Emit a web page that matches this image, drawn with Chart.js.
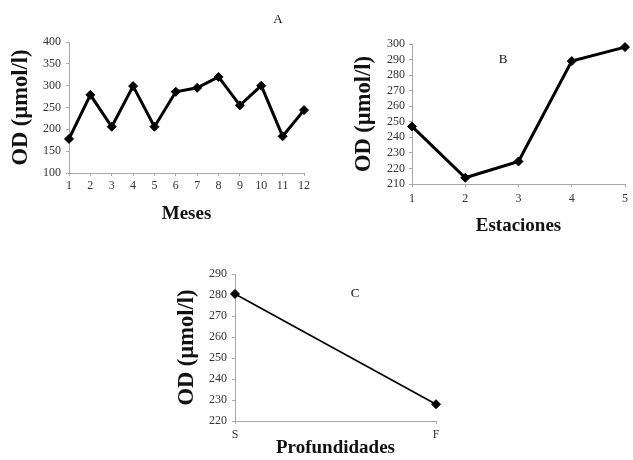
<!DOCTYPE html>
<html>
<head>
<meta charset="utf-8">
<title>OD (µmol/l)</title>
<script src="https://cdn.jsdelivr.net/npm/chart.js@4.4.1/dist/chart.umd.min.js"></script>
<style>
  html, body { margin: 0; padding: 0; background: #fff; }
  body { width: 633px; height: 460px; position: relative; overflow: hidden; }
  canvas { position: absolute; }
</style>
</head>
<body>
<canvas id="chartA" width="320" height="230" style="left:0;top:0"></canvas>
<canvas id="chartB" width="313" height="240" style="left:320px;top:0"></canvas>
<canvas id="chartC" width="300" height="230" style="left:160px;top:230px"></canvas>
<script>
// Dissolved oxygen (OD, µmol/l) by month, by station and by depth
const mesesLabels = ['1', '2', '3', '4', '5', '6', '7', '8', '9', '10', '11', '12'];
const mesesOD = [178, 279, 206, 299, 206, 286, 295, 320, 255, 300, 184, 244];

const estacionesLabels = ['1', '2', '3', '4', '5'];
const estacionesOD = [247, 214, 224.5, 289, 298];

const profundidadesLabels = ['S', 'F'];
const profundidadesOD = [280.5, 228];

const yTitle = 'OD (µmol/l)';
const SERIF = '"Liberation Serif", "Times New Roman", serif';
const AXIS_GREY = '#a8a8a8';
const TICK_COLOR = '#333';

// Panel letter drawn inside each canvas
const panelLetter = {
  id: 'panelLetter',
  afterDraw(chart, args, opts) {
    const ctx = chart.ctx;
    ctx.save();
    ctx.font = '13px ' + SERIF;
    ctx.fillStyle = '#111';
    ctx.textAlign = 'center';
    ctx.textBaseline = 'middle';
    ctx.fillText(opts.text, opts.x, opts.y);
    ctx.restore();
  }
};

function makeChart(id, g) {
  const canvas = document.getElementById(id);
  return new Chart(canvas, {
    type: 'line',
    data: {
      labels: g.labels,
      datasets: [{
        data: g.values,
        borderColor: '#000',
        backgroundColor: '#000',
        borderWidth: g.lineWidth,
        pointStyle: 'rectRot',
        pointRadius: 4.5,
        pointBorderWidth: 1,
        pointBackgroundColor: '#000',
        pointBorderColor: '#000',
        tension: 0,
        clip: false
      }]
    },
    options: {
      responsive: false,
      animation: false,
      events: [],
      layout: {
        autoPadding: false,
        padding: { left: 0, top: g.top, right: canvas.width - g.right, bottom: 0 }
      },
      plugins: {
        legend: { display: false },
        tooltip: { enabled: false },
        panelLetter: g.letter
      },
      scales: {
        x: {
          type: 'category',
          offset: false,
          grid: { drawOnChartArea: false, drawTicks: true, tickLength: 3, color: AXIS_GREY },
          border: { display: true, color: AXIS_GREY, width: 1 },
          ticks: {
            color: TICK_COLOR, padding: g.xTickPad, maxRotation: 0, autoSkip: false,
            font: { family: SERIF, size: 12 }
          },
          title: {
            display: true, text: g.xTitle, color: '#111',
            font: { family: SERIF, size: 19, weight: 'bold', lineHeight: 1 },
            padding: { top: 0, bottom: g.xTitlePad }
          },
          afterFit(scale) { scale.height = canvas.height - g.bottom; }
        },
        y: {
          min: g.min, max: g.max,
          grid: { drawOnChartArea: false, drawTicks: true, tickLength: 3, color: AXIS_GREY },
          border: { display: true, color: AXIS_GREY, width: 1 },
          ticks: {
            stepSize: g.step, color: TICK_COLOR, padding: g.yTickPad, autoSkip: false,
            font: { family: SERIF, size: 12 }
          },
          title: {
            display: true, text: yTitle, color: '#111',
            font: { family: SERIF, size: 22.5, weight: 'bold', lineHeight: 1 },
            padding: { top: g.yTitlePad, bottom: 0 }
          },
          afterFit(scale) { scale.width = g.left; }
        }
      }
    },
    plugins: [panelLetter]
  });
}

makeChart('chartA', {
  labels: mesesLabels, values: mesesOD, xTitle: 'Meses',
  min: 100, max: 400, step: 50, lineWidth: 3,
  left: 69, top: 42, right: 304, bottom: 173,
  xTickPad: 3, yTickPad: 5, yTitlePad: 9.5, xTitlePad: 6,
  letter: { text: 'A', x: 278, y: 20 }
});

makeChart('chartB', {
  labels: estacionesLabels, values: estacionesOD, xTitle: 'Estaciones',
  min: 210, max: 300, step: 10, lineWidth: 3,
  left: 92, top: 44, right: 310, bottom: 184,
  xTickPad: 5, yTickPad: 4, yTitlePad: 32.5, xTitlePad: 4,
  letter: { text: 'B', x: 183, y: 60 }
});

makeChart('chartC', {
  labels: profundidadesLabels, values: profundidadesOD, xTitle: 'Profundidades',
  min: 220, max: 290, step: 10, lineWidth: 1.6,
  left: 75, top: 44, right: 276, bottom: 191,
  xTickPad: 4, yTickPad: 5, yTitlePad: 16, xTitlePad: 2,
  letter: { text: 'C', x: 195, y: 64 }
});
</script>
</body>
</html>
